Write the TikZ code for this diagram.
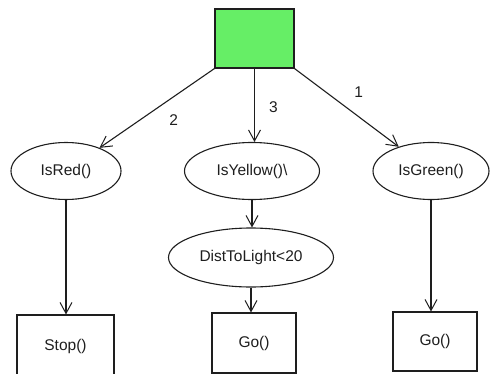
\documentclass[tikz,border=0pt]{standalone}
\usepackage{fontspec}
\setmainfont{Liberation Sans}
\usetikzlibrary{shapes.geometric,arrows.meta}
\definecolor{boxgreen}{RGB}{102,238,102}
\definecolor{ink}{RGB}{30,30,30}
\tikzset{
  x=1pt,y=1pt,
  every node/.style={font=\fontsize{15.5}{18}\selectfont, text=ink},
  oval/.style={draw=ink, line width=1.1pt, ellipse, inner sep=0pt},
  rect/.style={draw=ink, line width=1.1pt, rectangle, inner sep=0pt},
  arr/.style={draw=ink, line width=1.1pt, -{Straight Barb[length=11pt,width=12pt,line width=1pt]}},
  lbl/.style={font=\fontsize{15.5}{18}\selectfont, inner sep=1pt}
}
\begin{document}
\begin{tikzpicture}
\useasboundingbox (0,0) rectangle (492,373);
\node[rect, fill=boxgreen, minimum width=79, minimum height=59] (top) at (254.5,334.5) {};
\node[oval, minimum width=110, minimum height=57] (red) at (66,202) {IsRed()};
\node[oval, minimum width=135, minimum height=57] (yellow) at (252,202) {IsYellow()\textbackslash};
\node[oval, minimum width=116, minimum height=57] (green) at (431,202) {IsGreen()};
\node[oval, minimum width=165, minimum height=59] (dist) at (251,115.5) {DistToLight<20};
\node[rect, minimum width=97, minimum height=62] (stop) at (65.5,27) {Stop()};
\node[rect, minimum width=84, minimum height=60] (go1) at (254,30) {Go()};
\node[rect, minimum width=84, minimum height=59] (go2) at (435,31.5) {Go()};
\draw[arr] (top.south west) -- node[lbl, pos=0.45, xshift=11pt, yshift=-16pt] (l2) {2} (red);
\draw[arr] (top.south) -- node[lbl, pos=0.5, xshift=19pt, yshift=-2pt] (l3) {3} (top.south |- yellow.north);
\draw[arr] (top.south east) -- node[lbl, pos=0.5, xshift=12pt, yshift=15pt] (l1) {1} (green);
\draw[arr] (red.south) -- (red.south |- stop.north);
\draw[arr] (yellow.south) -- (yellow.south |- dist.north);
\draw[arr] (dist.south) -- (dist.south |- go1.north);
\draw[arr] (green.south) -- (green.south |- go2.north);
\end{tikzpicture}
\end{document}
